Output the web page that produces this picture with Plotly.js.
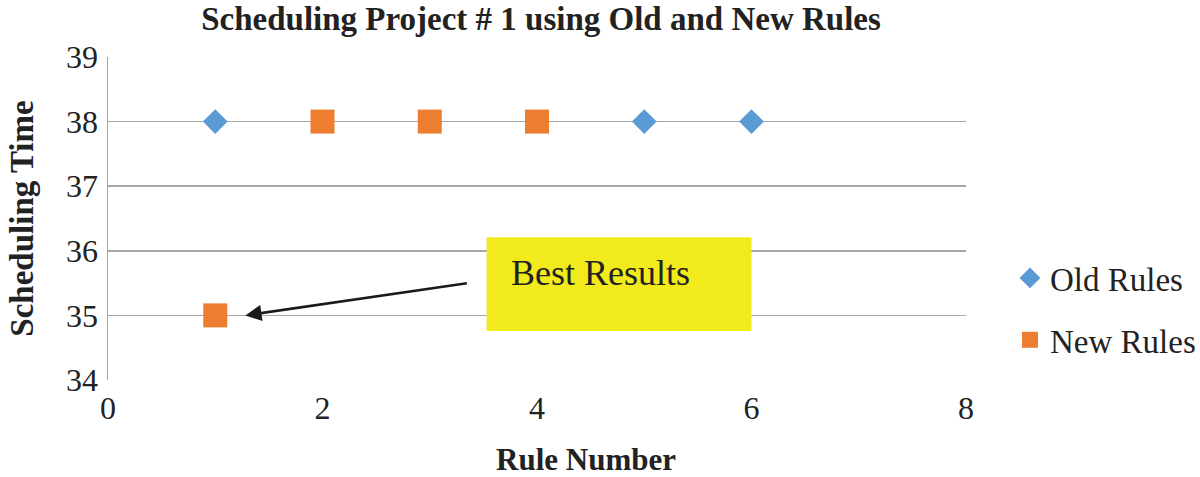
<!DOCTYPE html>
<html>
<head>
<meta charset="utf-8">
<script src="https://cdn.plot.ly/plotly-3.0.1.min.js"></script>
<style>html,body{margin:0;padding:0;background:#fff;}#chart{width:1200px;height:477px;}</style>
</head>
<body>
<div id="chart"></div>
<script>
const oldRuleX = [1, 5, 6];
const oldRuleY = [38, 38, 38];
const newRuleX = [1, 2, 3, 4];
const newRuleY = [35, 38, 38, 38];
const xTicks = [0, 2, 4, 6, 8];
const yTicks = [34, 35, 36, 37, 38, 39];

const font = 'Liberation Serif, Times New Roman, serif';

const traces = [
  {x: oldRuleX, y: oldRuleY, name: 'Old Rules', type: 'scatter', mode: 'markers',
   legendgroup: 'a',
   marker: {symbol: 'diamond', size: 19, color: '#5b9bd5'}},
  {x: newRuleX, y: newRuleY, name: 'New Rules', type: 'scatter', mode: 'markers',
   legendgroup: 'b',
   marker: {symbol: 'square', size: 24, color: '#ed7d31'}}
];

const layout = {
  width: 1200, height: 477,
  margin: {l: 108, r: 234, t: 57, b: 97, autoexpand: false},
  paper_bgcolor: '#fff', plot_bgcolor: '#fff',
  font: {family: font, color: '#222', size: 33},
  title: {text: '<b>Scheduling Project # 1 using Old and New Rules</b>', font: {family: font, size: 33, color: '#222'},
          x: 541/1200, xanchor: 'center', y: 1 - 18/477, yanchor: 'middle'},
  xaxis: {range: [0, 8], tickvals: xTicks, showgrid: false, zeroline: false,
          showline: false, ticks: '', ticklabelstandoff: 6,
          tickfont: {size: 32, family: font, color: '#222'}, fixedrange: true},
  yaxis: {range: [34, 39], tickvals: yTicks, showgrid: true, gridcolor: '#a6a6a6', gridwidth: 1.5,
          zeroline: false, showline: true, linecolor: '#a6a6a6', linewidth: 1.5, ticks: '',
          tickfont: {size: 32, family: font, color: '#222'}, ticklabelstandoff: 2,
          title: {text: '<b>Scheduling Time</b>', font: {size: 33, family: font, color: '#222'}, standoff: 22},
          fixedrange: true},
  legend: {x: (1010-108)/858, xanchor: 'left', y: 0.22, yanchor: 'middle', font: {size: 33, family: font, color: '#222'},
           tracegroupgap: 16, itemwidth: 30, bgcolor: 'rgba(0,0,0,0)'},
  shapes: [
    {type: 'rect', xref: 'x', yref: 'y', x0: 3.53, x1: 6.0, y0: 34.76, y1: 36.21,
     fillcolor: '#f2eb1c', line: {width: 0}, layer: 'above'}
  ],
  annotations: [
    {text: 'Best Results', xref: 'x', yref: 'y', x: 3.74, y: 35.66, xanchor: 'left', yanchor: 'middle',
     showarrow: false, font: {size: 36, family: font, color: '#222'}},
    {text: '', xref: 'x', yref: 'y', x: 1.28, y: 35.0, axref: 'x', ayref: 'y', ax: 3.36, ay: 35.5,
     showarrow: true, arrowhead: 2, arrowsize: 1.3, arrowwidth: 2.5, arrowcolor: '#1a1a1a'},
    {text: '<b>Rule Number</b>', xref: 'paper', yref: 'paper', x: (586-108)/858, y: -(459-380)/323,
     xanchor: 'center', yanchor: 'middle', showarrow: false, font: {size: 31, family: font, color: '#222'}}
  ]
};

Plotly.newPlot('chart', traces, layout, {displayModeBar: false, staticPlot: true});
</script>
</body>
</html>
